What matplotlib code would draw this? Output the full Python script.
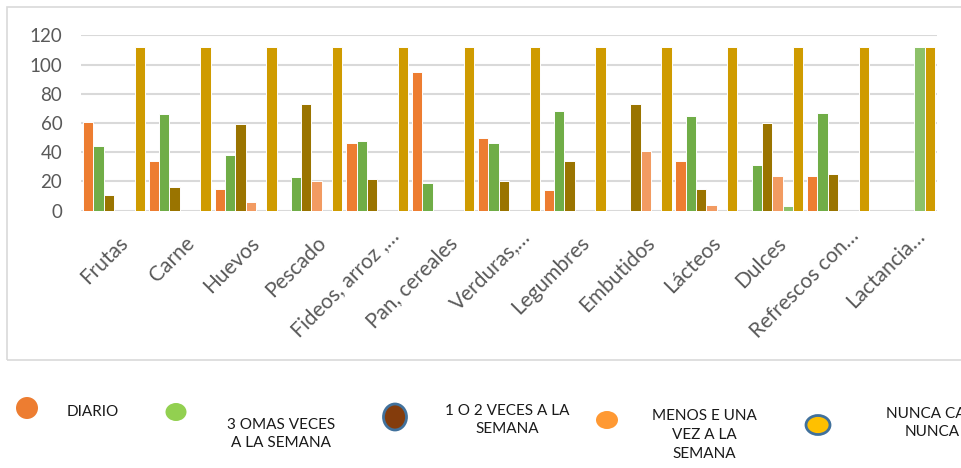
import numpy as np
import matplotlib
matplotlib.use("Agg")
import matplotlib.pyplot as plt
from matplotlib.patches import Rectangle, Ellipse
from matplotlib.transforms import offset_copy

plt.rcParams['font.family'] = ['Lato', 'DejaVu Sans']

categorias = ["Frutas", "Carne", "Huevos", "Pescado", "Fideos, arroz ,…", "Pan, cereales",
              "Verduras,…", "Legumbres", "Embutidos", "Lácteos", "Dulces",
              "Refrescos con…", "Lactancia…"]

diario = [61, 34, 15, 0, 46, 95, 50, 14, 0, 34, 0, 24, 0]
tres_o_mas = [44, 66, 38, 23, 48, 19, 46, 68, 0, 65, 31, 67, 0]
una_o_dos = [11, 16, 59, 73, 22, 0, 20, 34, 73, 15, 60, 25, 0]
menos_de_una = [0, 0, 6, 20, 0, 0, 0, 0, 41, 4, 24, 0, 0]
casi_nunca = [0, 0, 0, 0, 0, 0, 0, 0, 0, 0, 3, 0, 112]
nunca = [112, 112, 112, 112, 112, 112, 112, 112, 112, 112, 112, 112, 112]

series = [diario, tres_o_mas, una_o_dos, menos_de_una, casi_nunca, nunca]
colores = ["#ED7D31", "#70AD47", "#9A7400", "#F29B62", "#8DC169", "#CF9B00"]

fig = plt.figure(figsize=(9.61, 4.68), dpi=100)
ax = fig.add_axes([0.0843, 0.5498, 0.8905, 0.3748])

x = np.arange(len(categorias))
w = 0.157
for i, (vals, c) in enumerate(zip(series, colores)):
    ax.bar(x + (i - 2.5) * w, vals, width=w, color=c, edgecolor="white",
           linewidth=0.7, zorder=3)

ax.set_xlim(-0.5, len(categorias) - 0.5)
ax.set_ylim(0, 120)
ax.set_yticks(np.arange(0, 121, 20))
ax.yaxis.grid(True, color="#d9d9d9", linewidth=1.5, zorder=0)
for s in ax.spines.values():
    s.set_visible(False)
ax.tick_params(axis="y", length=0, pad=13.5, labelsize=13.5, labelcolor="#595959")
ax.set_xticks([])

# rotated category labels; truncated ones sit a bit further up the diagonal
for xi, lab in zip(x, categorias):
    dx, dy = (3, -16)
    if lab.endswith("…"):
        dx, dy = (8, -11)
    tr = offset_copy(ax.get_xaxis_transform(), fig=fig, x=dx, y=dy, units="points")
    ax.text(xi, 0, lab, transform=tr, rotation=45, rotation_mode="anchor",
            ha="right", va="top", fontsize=15, color="#595959")

# chart frame
fig.patches.append(Rectangle((7 / 961, 1 - 360 / 468), 1.0, 353 / 468,
                             transform=fig.transFigure, fill=False,
                             edgecolor="#d9d9d9", linewidth=1.2))

# legend drawn below the frame
H = 468.0
def fx(px):
    return px / 961.0

def fy(py):
    return 1 - py / H

marcas = [
    (27, 408, 22, 22, "#ED7D31", None),
    (176, 412, 21, 18, "#92D050", None),
    (395, 417, 23, 26, "#843C0C", "#41719C"),
    (607, 420, 22, 18, "#FF9933", None),
    (818, 425, 24, 19, "#FFC000", "#41719C"),
]
for cx, cy, ew, eh, fc, ec in marcas:
    e = Ellipse((fx(cx), fy(cy)), ew / 961, eh / H, transform=fig.transFigure,
                facecolor=fc, edgecolor=ec if ec else fc, linewidth=2 if ec else 0)
    fig.patches.append(e)

etiquetas = [
    (67, 412, "DIARIO", "left"),
    (281, 434, "3 OMAS VECES\nA LA SEMANA", "center"),
    (507, 420, "1 O 2 VECES A LA\nSEMANA", "center"),
    (704, 435, "MENOS E UNA\nVEZ A LA\nSEMANA", "center"),
    (932, 423, "NUNCA CASI\nNUNCA", "center"),
]
for tx, ty, t, ha in etiquetas:
    fig.text(fx(tx), fy(ty), t, ha=ha, va="center", fontsize=11,
             color="#1a1a1a", linespacing=1.45, multialignment="center")

fig.savefig("out.png", dpi=100)
